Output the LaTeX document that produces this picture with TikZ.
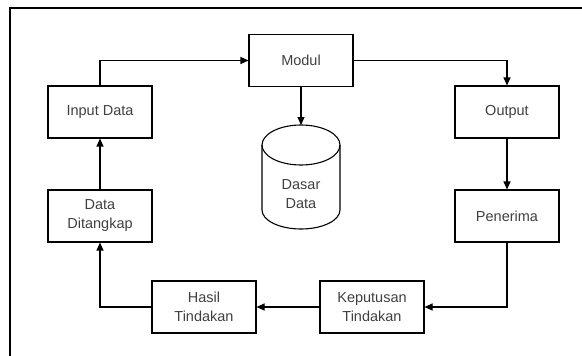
\documentclass[tikz,border=0pt]{standalone}
\usepackage{fontspec}
\setmainfont{Liberation Sans}
\usetikzlibrary{arrows.meta,shapes.geometric}
\begin{document}
\begin{tikzpicture}[x=1pt,y=-1pt,
  line width=1.1pt,
  box/.style={draw=black, minimum width=104pt, minimum height=52pt, inner sep=0pt, align=center,
    font=\fontsize{14.5}{19}\selectfont, text=black!75},
  arr/.style={-{Triangle[length=8pt,width=7pt]}}]
\useasboundingbox (0,0) rectangle (582,356);
\fill[white] (0,0) rectangle (582,356);
\coordinate (f1) at (10,8);
\coordinate (f2) at (582,8);
\coordinate (f3) at (10,356);
\draw[line width=1.6pt] (f2) -- (f1) -- (f3);

\node[box] (in) at (100,112) {Input Data};
\node[box] (mod) at (301,60.5) {Modul};
\node[box] (out) at (507,112) {Output};
\node[box] (pen) at (507,216) {Penerima};
\node[box] (kep) at (372,307) {Keputusan\\Tindakan};
\node[box] (has) at (204,307) {Hasil\\Tindakan};
\node[box] (dat) at (100,216) {Data\\Ditangkap};

% cylinder
\coordinate (cyl) at (301,125);
\draw (262,145) arc[start angle=180, end angle=-180, x radius=39pt, y radius=20pt];
\draw (262,145) -- (262,210) arc[start angle=180, end angle=360, x radius=39pt, y radius=19pt] -- (340,145);
\node[font=\fontsize{14.5}{19}\selectfont, text=black!75, align=center] (db) at (301,194) {Dasar\\Data};

\draw[arr] (in.north) |- (mod.west);
\draw[arr] (mod.east) -| (out.north);
\draw[arr] (mod.south) -- (cyl);
\draw[arr] (out.south) -- (pen.north);
\draw[arr] (pen.south) |- (kep.east);
\draw[arr] (kep.west) -- (has.east);
\draw[arr] (has.west) -| (dat.south);
\draw[arr] (dat.north) -- (in.south);
\end{tikzpicture}
\end{document}
